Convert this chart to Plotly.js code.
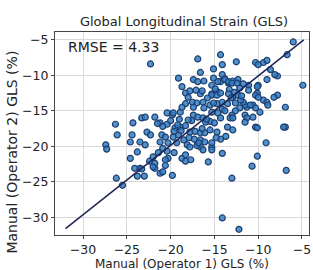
<!DOCTYPE html>
<html>
<head>
<meta charset="utf-8">
<script src="https://cdn.plot.ly/plotly-3.0.1.min.js"></script>
<style>html,body{margin:0;padding:0;background:#fff;}#chart{width:313px;height:270px;}</style>
</head>
<body>
<div id="chart"></div>
<script>
// Operator 1 GLS (%)
const op1 = [
-22.3,-16.9,-14.3,-12.5,-10.3,-10.0,-9.4,-9.0,-6.0,-6.7,-4.9,-19.1,-16.6,-15.1,-14.1,-17.4,-16.9,-16.2,-18.7,-18.3,
-15.1,-14.1,-13.4,-12.9,-12.3,-11.1,-10.0,-9.0,-8.6,-7.8,-10.1,-7.8,-6.9,-9.4,-9.0,-10.6,-11.3,-12.1,-6.9,-10.3,
-26.3,-24.3,-23.3,-22.9,-21.8,-20.4,-19.8,-19.7,-18.9,-27.4,-27.3,-26.1,-24.6,-24.4,-23.5,-22.9,-24.6,-23.8,-24.1,-23.5,
-23.3,-23.8,-23.0,-22.4,-21.8,-21.8,-21.2,-20.9,-19.8,-20.6,-20.3,-20.9,-20.4,-19.3,-20.3,-21.2,-18.7,-18.3,-18.3,-17.7,
-18.1,-16.6,-16.3,-15.7,-15.3,-15.3,-14.1,-14.1,-12.2,-13.0,-10.7,-10.1,-9.1,-6.8,-26.2,-25.5,-17.8,-17.1,-16.6,-16.4,
-18.0,-15.3,-14.7,-15.3,-14.3,-18.3,-17.5,-17.0,-16.3,-18.7,-17.4,-15.5,-14.7,-14.1,-14.1,-15.1,-17.4,-16.9,-16.3,-15.3,
-14.6,-14.3,-21.2,-20.4,-19.5,-18.9,-18.3,-17.8,-17.2,-16.6,-16.1,-15.5,-14.7,-22.7,-22.3,-21.0,-20.6,-19.7,-19.1,-17.8,
-16.6,-16.1,-15.3,-20.6,-22.0,-13.8,-11.7,-8.1,-13.3,-12.7,-13.4,-12.9,-12.3,-10.3,-10.0,-11.5,-13.5,-13.0,-13.2,-12.9,
-12.9,-11.5,-11.3,-11.5,-10.9,-8.9,-14.6,-13.8,-13.4,-13.0,-12.4,-15.3,-14.7,-14.3,-12.1,-11.1,-10.1,-12.6,-11.7,-10.3,
-7.1,-10.1,-10.6,-20.9,-20.0,-18.8,-19.6,-21.5,-15.5,-14.3,-13.7,-13.8,-16.0,-15.9,-16.9,-17.6,-18.5,-19.2,-17.0,-15.0,
-14.8,-12.6,-16.8,-19.0,-18.0,-13.5,-12.0,-16.2,-22.0,-21.4,-17.3,-15.8,-13.1,-11.9,-9.8,-8.2,-14.9,-19.6,-16.4,-17.9
];
// Operator 2 GLS (%)
const op2 = [
-8.4,-7.7,-7.1,-8.1,-8.2,-8.5,-8.2,-7.9,-5.3,-7.1,-11.4,-10.4,-9.6,-9.1,-8.5,-10.6,-10.9,-10.8,-11.6,-12.5,
-10.4,-9.9,-11.1,-10.8,-10.6,-11.4,-11.4,-10.6,-9.2,-10.1,-12.5,-12.8,-14.5,-13.5,-13.8,-14.2,-14.5,-14.6,-17.3,-17.3,
-16.9,-16.7,-16.0,-15.9,-15.9,-15.3,-15.6,-15.3,-15.2,-19.8,-20.4,-18.4,-19.4,-18.4,-19.4,-19.8,-21.7,-20.8,-23.1,-23.1,
-23.2,-24.2,-24.2,-22.1,-22.4,-23.1,-23.8,-23.6,-24.1,-22.7,-21.7,-20.3,-20.7,-19.5,-19.5,-19.4,-21.7,-21.2,-22.1,-21.9,
-19.8,-20.1,-20.5,-22.2,-20.1,-20.5,-21.0,-30.1,-31.7,-24.5,-22.8,-21.4,-19.5,-23.4,-24.5,-25.5,-12.2,-12.1,-12.6,-12.2,
-13.1,-12.6,-12.3,-11.4,-10.9,-14.0,-13.8,-13.9,-13.8,-14.5,-14.5,-14.2,-14.0,-14.8,-13.8,-13.9,-15.6,-15.9,-16.0,-15.2,
-15.3,-16.0,-16.7,-16.9,-17.4,-17.3,-17.1,-18.0,-17.9,-18.1,-18.1,-17.7,-18.0,-18.0,-18.4,-18.4,-18.7,-18.7,-18.4,-20.1,
-19.1,-19.4,-19.5,-21.9,-22.9,-10.5,-11.2,-9.9,-12.0,-12.4,-12.6,-13.1,-12.8,-12.8,-13.1,-14.2,-14.0,-15.6,-16.0,-16.0,
-17.7,-15.6,-16.0,-16.6,-14.2,-14.2,-10.9,-10.6,-10.9,-11.1,-11.1,-12.8,-12.8,-12.5,-11.8,-12.1,-11.6,-13.9,-13.8,-14.6,
-17.3,-17.4,-15.9,-17.2,-16.4,-17.8,-20.9,-16.8,-16.5,-19.0,-18.6,-15.0,-16.6,-16.2,-19.6,-16.4,-19.1,-17.0,-19.9,-16.7,
-18.8,-15.0,-19.5,-16.2,-16.3,-17.3,-13.5,-14.6,-21.5,-20.9,-19.0,-13.2,-13.2,-12.9,-15.2,-13.1,-11.9,-17.9,-17.5,-18.8
];
// Reference line end points
const lineX = [-32.0, -4.8];
const lineY = [-31.6, -5.0];
const xTicks = [-30, -25, -20, -15, -10, -5];
const yTicks = [-30, -25, -20, -15, -10, -5];
const titleText = 'Global Longitudinal Strain (GLS)';
const xTitle = 'Manual (Operator 1) GLS (%)';
const yTitle = 'Manual (Operator 2) GLS (%)';
const rmseText = 'RMSE = 4.33';

const font = 'DejaVu Sans, Arial, sans-serif';
const traces = [
  {x: op1, y: op2, type: 'scatter', mode: 'markers',
   marker: {size: 6, color: 'rgba(52,126,196,0.85)', line: {color: '#1d3f6e', width: 1.2}},
   hoverinfo: 'none', showlegend: false},
  {x: lineX, y: lineY, type: 'scatter', mode: 'lines',
   line: {color: '#1f2456', width: 1.5}, hoverinfo: 'none', showlegend: false}
];
const axisCommon = {
  showgrid: true, gridcolor: '#d9d9d9', gridwidth: 1, zeroline: false,
  showline: true, linecolor: '#444', linewidth: 1, mirror: true,
  ticks: 'outside', ticklen: 3, tickcolor: '#444',
  tickfont: {family: font, size: 12.5, color: '#222'}
};
const layout = {
  width: 313, height: 270,
  margin: {l: 55, r: 4, t: 32, b: 35},
  paper_bgcolor: '#fff', plot_bgcolor: '#fff',
  title: {text: titleText, font: {family: font, size: 13, color: '#222'}, x: 0.588, xanchor: 'center', y: 0.92, yanchor: 'middle'},
  xaxis: Object.assign({}, axisCommon, {range: [-33.2, -4.2], tickvals: xTicks}),
  yaxis: Object.assign({}, axisCommon, {range: [-32.5, -3.9], tickvals: yTicks}),
  annotations: [
    {text: rmseText, xref: 'paper', yref: 'paper', x: 0.045, y: 0.925,
     xanchor: 'left', yanchor: 'middle', showarrow: false,
     font: {family: font, size: 14, color: '#222'}},
    {text: xTitle, xref: 'paper', yref: 'paper', x: 0.5, y: -0.145,
     xanchor: 'center', yanchor: 'middle', showarrow: false,
     font: {family: font, size: 12, color: '#222'}},
    {text: yTitle, xref: 'paper', yref: 'paper', x: -0.17, y: 0.41,
     xanchor: 'center', yanchor: 'middle', textangle: -90, showarrow: false,
     font: {family: font, size: 14, color: '#222'}}
  ]
};
Plotly.newPlot('chart', traces, layout, {displayModeBar: false, staticPlot: true});
</script>
</body>
</html>
